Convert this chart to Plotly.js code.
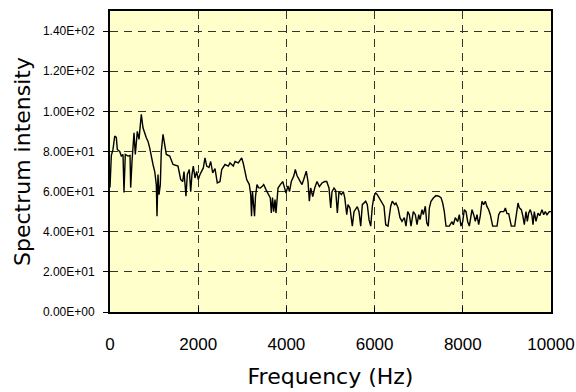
<!DOCTYPE html>
<html>
<head>
<meta charset="utf-8">
<script src="https://cdn.plot.ly/plotly-3.0.1.min.js"></script>
<style>
  html, body { margin: 0; padding: 0; background: #ffffff; }
  #chart { width: 576px; height: 392px; }
</style>
</head>
<body>
<div id="chart"></div>
<script>
// Frequency (Hz)
const frequency = [
  0, 30, 68, 107, 143, 166, 220, 256, 295, 317, 347, 408, 454, 469, 499, 544, 574, 619, 658, 710,
  748, 787, 823, 862, 900, 975, 1014, 1050, 1066, 1088, 1111, 1141, 1163, 1202, 1240, 1277, 1354, 1429, 1542, 1603,
  1649, 1678, 1723, 1753, 1798, 1830, 1859, 1889, 1927, 1966, 2002, 2041, 2116, 2154, 2193, 2245, 2283, 2329, 2381, 2433,
  2494, 2533, 2608, 2683, 2721, 2796, 2835, 2909, 2986, 3023, 3100, 3159, 3191, 3209, 3231, 3277, 3299, 3333, 3367, 3408,
  3447, 3485, 3537, 3583, 3635, 3658, 3685, 3712, 3742, 3764, 3810, 3862, 3916, 3957, 3991, 4036, 4070, 4111, 4166, 4202,
  4240, 4315, 4354, 4392, 4451, 4490, 4520, 4551, 4597, 4642, 4694, 4747, 4807, 4869, 4914, 4966, 5005, 5034, 5080, 5118,
  5155, 5193, 5246, 5291, 5323, 5368, 5397, 5442, 5495, 5533, 5571, 5608, 5646, 5685, 5722, 5798, 5835, 5873, 5912, 5948,
  5986, 6025, 6061, 6100, 6138, 6213, 6252, 6304, 6365, 6401, 6456, 6485, 6531, 6576, 6621, 6674, 6712, 6751, 6788, 6826,
  6878, 6924, 6962, 7001, 7030, 7075, 7105, 7150, 7182, 7218, 7241, 7279, 7332, 7392, 7454, 7506, 7544, 7581, 7619, 7694,
  7755, 7785, 7830, 7884, 7921, 7959, 7998, 8034, 8073, 8111, 8148, 8209, 8247, 8284, 8322, 8360, 8397, 8435, 8473, 8511,
  8549, 8587, 8624, 8678, 8776, 8814, 8851, 8929, 8965, 9002, 9041, 9100, 9177, 9206, 9252, 9281, 9327, 9360, 9395, 9433,
  9463, 9494, 9531, 9569, 9592, 9621, 9660, 9705, 9744, 9796, 9835, 9871, 9909, 9962, 10000
];

// Spectrum intensity
const intensity = [
  62, 78, 81, 87.7, 87, 81, 80, 77.7, 78.5, 59.5, 78.5, 77.7, 78, 62, 75, 89.3, 78.5, 90, 86, 98.5,
  91.8, 89, 86.8, 85, 81.8, 73.5, 70, 63.5, 47.7, 68.5, 58.5, 63.5, 80, 88.5, 83.5, 78.5, 77.7, 73.5, 72.7, 66,
  65, 70, 57.7, 68.5, 71, 60, 68.5, 72.7, 66.8, 70, 66, 68.5, 71.8, 76.8, 72.7, 72, 75, 69.3, 71.5, 64.3,
  65, 71, 73.5, 72.7, 74.3, 72.7, 75, 74.3, 76.8, 74, 66, 63.5, 58.5, 47.7, 60, 47.7, 57.5, 63.5, 62, 61.8,
  62.5, 63.5, 61, 59.3, 56.8, 49.3, 57, 50, 56, 49.3, 61.8, 63.5, 65, 62, 59.3, 62.8, 60, 65, 67.7, 71,
  68, 65, 63.5, 66, 70.2, 65, 55.2, 61.8, 57.5, 61.8, 65, 62.5, 64.3, 65, 65, 61.8, 51.8, 60, 61.8, 60.5,
  49.3, 60, 58.5, 60, 57, 48.5, 53.5, 51.8, 42.8, 50, 51, 52.5, 50, 42.8, 53.5, 55.2, 53.5, 46, 42.8, 52.5,
  57.7, 59.3, 58.5, 57, 56, 52.7, 43.5, 42.8, 52.7, 55.2, 53.5, 54.3, 52, 47, 45.2, 47, 42.8, 50, 48.5, 42.8,
  50, 48.5, 43.5, 48.5, 46, 51, 48.5, 52.7, 44.5, 42.8, 51.8, 55.2, 56.8, 58, 57.7, 57, 54.3, 50, 42.8, 42.8,
  45, 43.5, 47, 45, 48.5, 42.8, 45, 51, 50, 45, 42.8, 51, 48.5, 45.2, 48.5, 43.5, 48, 55.2, 53.5, 55.2,
  52.5, 51, 48.5, 42.8, 42.8, 48.5, 50, 50, 51.8, 49, 49, 42.8, 42.8, 48.5, 54.3, 52, 51, 48, 43.5, 50,
  45.2, 49.3, 51, 48, 43.5, 50, 45.2, 49.3, 48, 51, 48.5, 50, 48.5, 50, 50
];

const xTickVals = [0, 2000, 4000, 6000, 8000, 10000];
const xTickText = ["0", "2000", "4000", "6000", "8000", "10000"];
const yTickVals = [0, 20, 40, 60, 80, 100, 120, 140];
const yTickText = ["0.00E+00", "2.00E+01", "4.00E+01", "6.00E+01", "8.00E+01", "1.00E+02", "1.20E+02", "1.40E+02"];

const trace = {
  x: frequency,
  y: intensity,
  type: "scatter",
  mode: "lines",
  line: { color: "#000000", width: 1.4 },
  hoverinfo: "x+y"
};

const layout = {
  width: 576,
  height: 392,
  margin: { l: 110, r: 25, t: 11, b: 80, pad: 0 },
  paper_bgcolor: "#ffffff",
  plot_bgcolor: "#FFFFCC",
  showlegend: false,
  xaxis: {
    range: [0, 10000],
    tickmode: "array",
    tickvals: xTickVals,
    ticktext: xTickText,
    ticks: "inside",
    ticklen: 5,
    tickcolor: "#000000",
    tickwidth: 1,
    ticklabelstandoff: 16,
    tickfont: { family: "Liberation Sans, Arial, sans-serif", size: 17, color: "#000000" },
    showgrid: true,
    gridcolor: "#333333",
    gridwidth: 1,
    griddash: "8px,6px",
    zeroline: false,
    showline: true,
    linecolor: "#000000",
    linewidth: 2,
    mirror: true,
    title: {
      text: "Frequency (Hz)",
      font: { family: "DejaVu Sans, sans-serif", size: 22, color: "#000000" },
      standoff: 15
    }
  },
  yaxis: {
    range: [0, 150],
    tickmode: "array",
    tickvals: yTickVals,
    ticktext: yTickText,
    ticks: "outside",
    ticklen: 5,
    tickcolor: "#000000",
    tickwidth: 1,
    ticklabelstandoff: 6,
    tickfont: { family: "Liberation Sans, Arial, sans-serif", size: 12, color: "#000000" },
    showgrid: true,
    gridcolor: "#333333",
    gridwidth: 1,
    griddash: "8px,6px",
    zeroline: false,
    showline: true,
    linecolor: "#000000",
    linewidth: 2,
    mirror: true,
    title: {
      text: "Spectrum intensity",
      font: { family: "DejaVu Sans, sans-serif", size: 22, color: "#000000" },
      standoff: 6
    }
  }
};

Plotly.newPlot("chart", [trace], layout, { displayModeBar: false, staticPlot: true });
</script>
</body>
</html>
